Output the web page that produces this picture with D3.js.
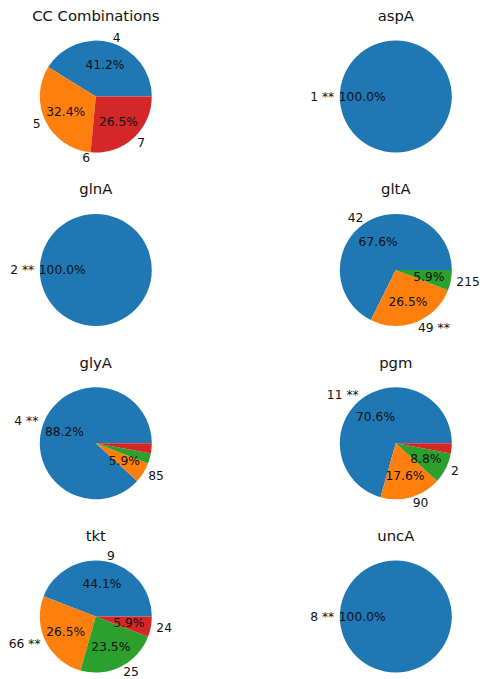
<!DOCTYPE html>
<html>
<head>
<meta charset="utf-8">
<script src="https://cdn.jsdelivr.net/npm/d3@7"></script>
<style>
  html, body { margin: 0; padding: 0; background: #fff; }
  svg { display: block; }
  text { font-family: "DejaVu Sans", sans-serif; fill: #111; }
</style>
</head>
<body>
<svg id="chart" width="480" height="679"></svg>
<script>
// Panel titles, in grid order (left to right, top to bottom)
const titles = ["CC Combinations", "aspA", "glnA", "gltA", "glyA", "pgm", "tkt", "uncA"];

// Slice labels per panel ("**" marks the flagged allele)
const sliceLabels = [
  ["4", "5", "6", "7"],
  ["1 **"],
  ["2 **"],
  ["42", "49 **", "215"],
  ["4 **", "85", "", ""],
  ["11 **", "90", "2", ""],
  ["9", "66 **", "25", "24"],
  ["8 **"]
];

// Isolate counts per slice (34 isolates per panel)
const sliceCounts = [
  [14, 11, 0, 9],
  [34],
  [34],
  [23, 9, 2],
  [30, 2, 1, 1],
  [24, 6, 3, 1],
  [15, 9, 8, 2],
  [34]
];

const W = 480, H = 679;
const radius = 56;
const nCols = 2, nRows = 4;

const svg = d3.select("#chart");

// Grid placement of the pie centres
const xCol = d3.scaleLinear().domain([0, 1]).range([95.8, 395.8]);
const yRow = d3.scaleLinear().domain([0, 3]).range([96.6, 616.6]);

const color = d3.scaleOrdinal().range(d3.schemeCategory10);

// Slices start at 3 o'clock and run counter-clockwise
const pie = d3.pie()
  .sort(null)
  .value(d => d.count)
  .startAngle(Math.PI / 2)
  .endAngle(Math.PI / 2 - 2 * Math.PI);

const arc = d3.arc().innerRadius(0).outerRadius(radius);
const fmtPct = d3.format(".1f");

titles.forEach((title, i) => {
  const col = i % nCols, row = Math.floor(i / nCols);
  const cx = xCol(col), cy = yRow(row);
  const g = svg.append("g").attr("transform", `translate(${cx},${cy})`);

  const rows = sliceCounts[i].map((c, j) => ({ count: c, label: sliceLabels[i][j], idx: j }));
  const total = d3.sum(rows, d => d.count);
  const arcs = pie(rows);

  g.selectAll("path.slice")
    .data(arcs)
    .join("path")
    .attr("class", "slice")
    .attr("d", arc)
    .attr("fill", d => color(d.data.idx));

  // Outer category labels at 1.1 × radius
  arcs.forEach(d => {
    if (!d.data.label) return;
    const mid = (d.startAngle + d.endAngle) / 2;
    const x = Math.sin(mid) * radius * 1.1;
    const y = -Math.cos(mid) * radius * 1.1;
    g.append("text")
      .attr("x", x)
      .attr("y", y)
      .attr("dy", "0.36em")
      .attr("text-anchor", x > 0 ? "start" : "end")
      .style("font-size", "12.3px")
      .text(d.data.label);
  });

  // Percentages at 0.6 × radius, shown for slices of 5% or more
  arcs.forEach(d => {
    const pct = d.data.count / total * 100;
    if (pct < 5) return;
    const mid = (d.startAngle + d.endAngle) / 2;
    const x = Math.sin(mid) * radius * 0.6;
    const y = -Math.cos(mid) * radius * 0.6;
    g.append("text")
      .attr("x", x)
      .attr("y", y)
      .attr("dy", "0.36em")
      .attr("text-anchor", "middle")
      .style("font-size", "12.3px")
      .text(fmtPct(pct) + "%");
  });

  g.append("text")
    .attr("x", 0)
    .attr("y", -radius * 1.25 - 11)
    .attr("dy", "0.36em")
    .attr("text-anchor", "middle")
    .style("font-size", "14.8px")
    .text(title);
});
</script>
</body>
</html>
